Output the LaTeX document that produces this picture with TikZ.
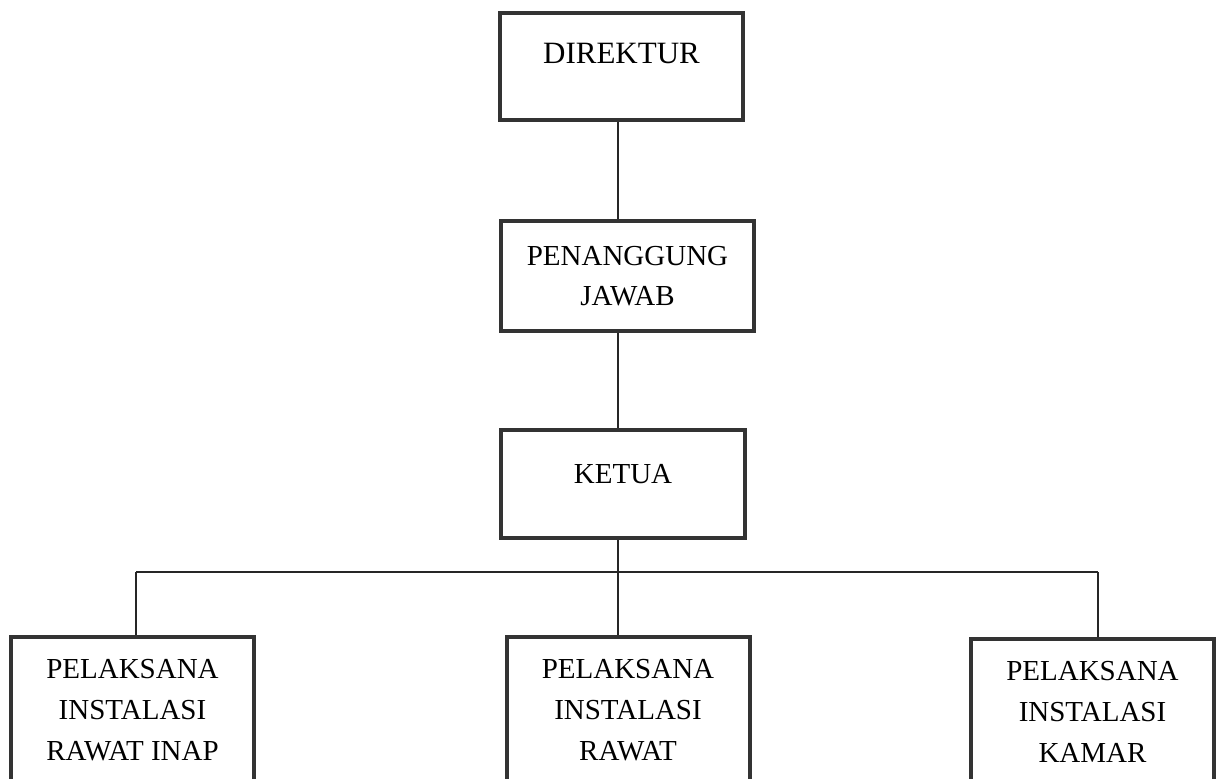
\documentclass[tikz,border=0pt]{standalone}
\usepackage{fontspec}
\setmainfont{Liberation Serif}
\usepackage{tikz}

\begin{document}
\begin{tikzpicture}[x=1pt,y=-1pt,
	box/.style={shape=rectangle,draw=black!80,line width=4pt,inner sep=0pt},
	topbox/.style={box,font=\fontsize{29}{40}\selectfont},
	lowbox/.style={box,align=center,font=\fontsize{29}{41}\selectfont,minimum width=243pt,minimum height=146pt},
	link/.style={draw=black!85,line width=1.3pt}]
	
	\useasboundingbox (0,0) rectangle (1216,779);
	
	\node[topbox,font=\fontsize{31}{40}\selectfont,text depth=26pt,minimum width=243pt,minimum height=107pt] (dir) at (621.5, 66.5) {DIREKTUR};
	\node[topbox,align=center,minimum width=253pt,minimum height=110pt] (pj)  at (627.5, 276)  {PENANGGUNG\\JAWAB};
	\node[topbox,text depth=20pt,minimum width=244pt,minimum height=108pt] (ket) at (623, 484)    {KETUA};
	\node[lowbox] (ri)  at (132.5, 710)  {PELAKSANA\\INSTALASI\\RAWAT INAP};
	\node[lowbox] (rw)  at (628, 710)    {PELAKSANA\\INSTALASI\\RAWAT};
	\node[lowbox] (km)  at (1092.5, 712) {PELAKSANA\\INSTALASI\\KAMAR};
	
	\coordinate (spine) at (618, 0);
	\coordinate (bus)   at (0, 572);
	
	\path[link] (dir.south -| spine) -- (pj.north -| spine);
	\path[link] (pj.south -| spine)  -- (ket.north -| spine);
	\path[link] (ket.south -| spine) -- (rw.north -| spine);
	\path[link] (bus -| 136, 0) -- (bus -| 1098, 0);
	\path[link] (bus -| 136, 0) -- (ri.north -| 136, 0);
	\path[link] (bus -| 1098, 0) -- (km.north -| 1098, 0);
\end{tikzpicture}
\end{document}
